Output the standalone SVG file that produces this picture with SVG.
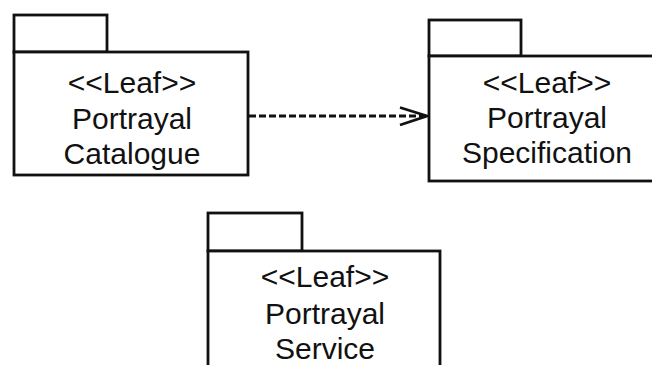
<svg xmlns="http://www.w3.org/2000/svg" width="652" height="365" viewBox="0 0 652 365">
<style>
.box{fill:#fff;stroke:#111;stroke-width:2.8}
.t{font-family:"Liberation Sans",Arial,sans-serif;font-size:30px;fill:#111;text-anchor:middle}
.dep{fill:none;stroke:#111;stroke-width:2.8}
</style>
<rect width="652" height="365" fill="#fff"/>
<g id="connectors">
<line class="dep" x1="249" y1="116" x2="426" y2="116" stroke-dasharray="7 3"/>
<polyline class="dep" points="400,107.5 427,116 400,125"/>
</g>
<g id="portrayal-catalogue">
<rect class="box" x="14" y="15" width="93" height="37"/>
<rect class="box" x="14" y="52" width="234" height="123"/>
<text class="t" x="132" y="93">&lt;&lt;Leaf&gt;&gt;</text>
<text class="t" x="132" y="129">Portrayal</text>
<text class="t" x="132" y="164">Catalogue</text>
</g>
<g id="portrayal-specification">
<rect class="box" x="429" y="20" width="92" height="36"/>
<rect class="box" x="429" y="56" width="240" height="125"/>
<text class="t" x="547" y="93">&lt;&lt;Leaf&gt;&gt;</text>
<text class="t" x="547" y="128">Portrayal</text>
<text class="t" x="547" y="163">Specification</text>
</g>
<g id="portrayal-service">
<rect class="box" x="208" y="213" width="94" height="38"/>
<rect class="box" x="208" y="251" width="232" height="130"/>
<text class="t" x="325" y="287">&lt;&lt;Leaf&gt;&gt;</text>
<text class="t" x="325" y="324">Portrayal</text>
<text class="t" x="325" y="359">Service</text>
</g>
</svg>
